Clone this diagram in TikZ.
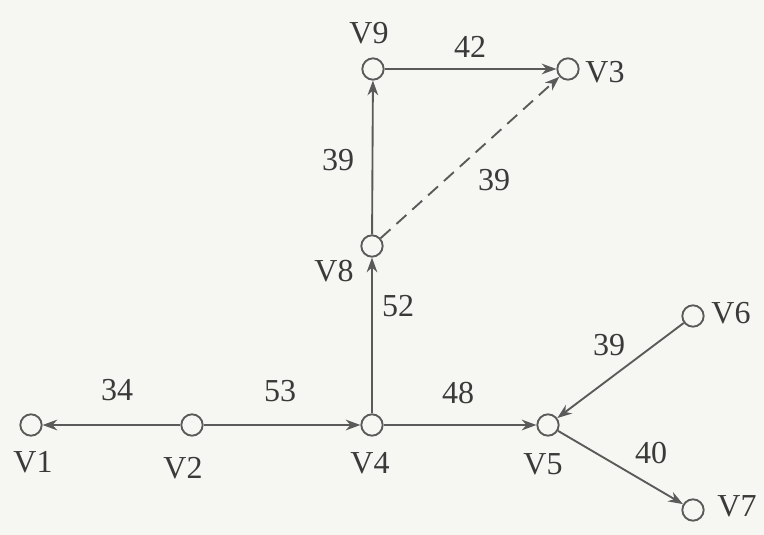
\documentclass[tikz,border=0pt]{standalone}
\usepackage{fontspec}
\setmainfont{Liberation Serif}
\usetikzlibrary{arrows.meta}
\definecolor{ink}{HTML}{5A5A5A}
\definecolor{txt}{HTML}{3A3A3A}
\definecolor{paper}{HTML}{F6F6F3}
\begin{document}
\begin{tikzpicture}[x=0.75pt,y=-0.75pt,
  vtx/.style={circle,draw=ink,line width=1.4pt,minimum size=16pt,inner sep=0pt,fill=paper},
  lbl/.style={text=txt,font=\fontsize{24}{28}\selectfont,inner sep=0pt},
  edge/.style={draw=ink,line width=1.4pt,-{Stealth[length=11pt,width=8pt,inset=3.5pt]}},
  dashedge/.style={edge,dash pattern=on 10pt off 6pt}]
\fill[paper] (0,0) rectangle (764,535);
\useasboundingbox (0,0) rectangle (764,535);
% vertices
\node[vtx] (v1) at (31,425) {};
\node[vtx] (v2) at (192,425) {};
\node[vtx] (v4) at (372,425) {};
\node[vtx] (v5) at (548,425) {};
\node[vtx] (v6) at (693,316) {};
\node[vtx] (v7) at (693,510) {};
\node[vtx] (v8) at (372,246) {};
\node[vtx] (v9) at (373,69) {};
\node[vtx] (v3) at (568,69) {};
% vertex labels
\node[lbl] (l1) at (33,462) {V1};
\node[lbl] (l2) at (183,468) {V2};
\node[lbl] (l4) at (370,463) {V4};
\node[lbl] (l5) at (543,464) {V5};
\node[lbl] (l6) at (731,313) {V6};
\node[lbl] (l7) at (737,506) {V7};
\node[lbl] (l8) at (334,271) {V8};
\node[lbl] (l9) at (369,33) {V9};
\node[lbl] (l3) at (605,72) {V3};
% edges
\draw[edge] (v2) -- (v1);
\draw[edge] (v2) -- (v4);
\draw[edge] (v4) -- (v8);
\draw[edge] (v8) -- (v9);
\draw[edge] (v9) -- (v3);
\draw[dashedge] (v8) -- (v3);
\draw[edge] (v4) -- (v5);
\draw[edge] (v6) -- (v5);
\draw[edge] (v5) -- (v7);
% weights
\node[lbl] (w34) at (117,390) {34};
\node[lbl] (w53) at (280,391) {53};
\node[lbl] (w52) at (398,306) {52};
\node[lbl] (w39a) at (338,160) {39};
\node[lbl] (w42) at (470,47) {42};
\node[lbl] (w39b) at (494,180) {39};
\node[lbl] (w48) at (458,393) {48};
\node[lbl] (w39c) at (609,345) {39};
\node[lbl] (w40) at (651,453) {40};
\end{tikzpicture}
\end{document}
